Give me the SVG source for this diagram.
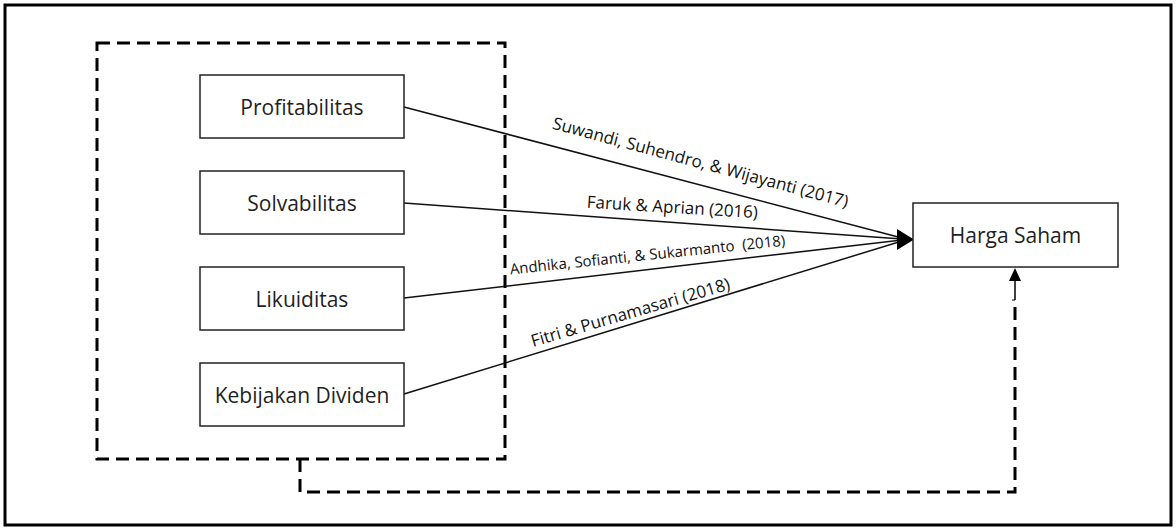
<svg xmlns="http://www.w3.org/2000/svg" width="1176" height="529" viewBox="0 0 1176 529">
<style>
.frame{fill:#fff;stroke:#000;stroke-width:3}
.dash{fill:none;stroke:#000;stroke-width:3;stroke-dasharray:13 7}
.node{fill:#fff;stroke:#222;stroke-width:1.5}
.nl{font-family:"Open Sans","Liberation Sans",sans-serif;font-size:21px;fill:#1f1f1f;text-anchor:middle;dominant-baseline:central}
.ln{stroke:#111;stroke-width:1.5;fill:none}
.lb{font-family:"Open Sans","Liberation Sans",sans-serif;font-size:17px;fill:#111;text-anchor:middle;white-space:pre}
</style>
<rect class="frame" x="5" y="5" width="1166" height="520"/>
<rect class="dash" x="97" y="43" width="408" height="416"/>
<g id="connectors">
<line class="ln" x1="404" y1="107" x2="902" y2="238"/>
<line class="ln" x1="404" y1="203" x2="902" y2="239"/>
<line class="ln" x1="404" y1="298" x2="902" y2="240"/>
<line class="ln" x1="404" y1="394" x2="902" y2="241"/>
<polygon points="897,229 914,239.5 897,250" fill="#000"/>
<text class="lb" transform="translate(699,168) rotate(15)">Suwandi, Suhendro, &amp; Wijayanti (2017)</text>
<text class="lb" transform="translate(672,213) rotate(3.5)">Faruk &amp; Aprian (2016)</text>
<text class="lb" style="font-size:15px" transform="translate(648,260) rotate(-6)" xml:space="preserve">Andhika, Sofianti, &amp; Sukarmanto  (2018)</text>
<text class="lb" transform="translate(632,318) rotate(-16.3)">Fitri &amp; Purnamasari (2018)</text>
<path class="dash" d="M300,459 V492 H1015 V300"/>
<line x1="1015" y1="300" x2="1015" y2="278" stroke="#000" stroke-width="1.5"/>
<line x1="1012" y1="300" x2="1015" y2="300" stroke="#000" stroke-width="1"/>
<polygon points="1009,281 1015,268 1021,281" fill="#000"/>
</g>
<g id="n-profitabilitas"><rect class="node" x="200" y="75" width="204" height="63"/><text class="nl" x="302" y="106.5">Profitabilitas</text></g>
<g id="n-solvabilitas"><rect class="node" x="200" y="171" width="204" height="63"/><text class="nl" x="302" y="202.5">Solvabilitas</text></g>
<g id="n-likuiditas"><rect class="node" x="200" y="267" width="204" height="63"/><text class="nl" x="302" y="298.5">Likuiditas</text></g>
<g id="n-kebijakan"><rect class="node" x="200" y="363" width="204" height="63"/><text class="nl" x="302" y="394.5">Kebijakan Dividen</text></g>
<g id="n-harga"><rect class="node" x="913" y="203" width="205" height="64"/><text class="nl" x="1015.5" y="235">Harga Saham</text></g>
</svg>
